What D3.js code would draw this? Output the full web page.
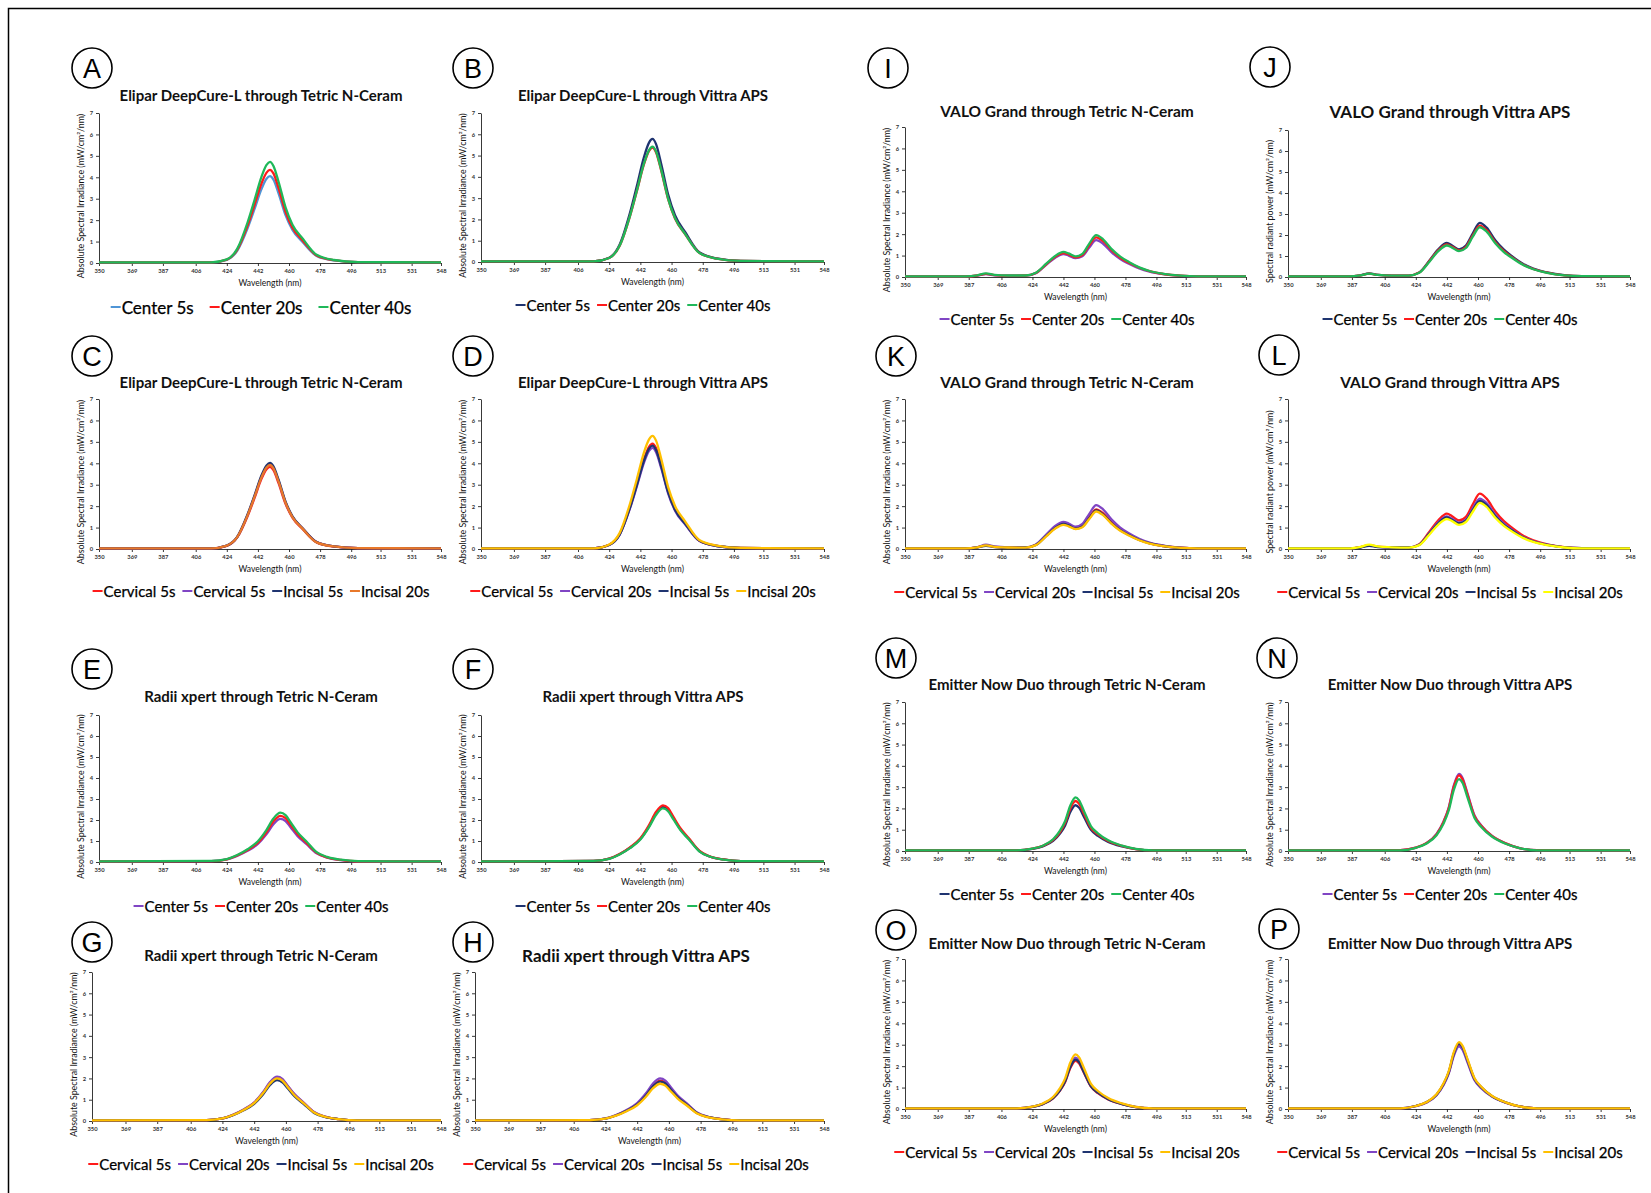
<!DOCTYPE html>
<html>
<head>
<meta charset="utf-8">
<script src="https://cdn.jsdelivr.net/npm/d3@7"></script>
<style>
  body { margin: 0; background: #fff; }
  svg { display: block; }
</style>
</head>
<body>
<div id="fig"></div>
<script>

// wavelength grids (nm)
var nmElipar  = [350, 415, 424, 430, 436, 440, 444, 447, 449, 451, 454, 458, 462, 468, 476, 486, 500, 548];
var nmRadii   = [350, 415, 424, 430, 436, 442, 447, 451, 455, 458, 461, 465, 470, 476, 482, 490, 500, 548];
var nmEmitter = [350, 415, 424, 430, 436, 440, 443, 446, 449, 451, 454, 458, 462, 468, 476, 484, 494, 548];
var nmValo    = [350, 385, 392, 397, 402, 410, 420, 426, 432, 437, 442, 445, 449, 453, 457, 461, 465, 470, 475, 480, 486, 492, 500, 510, 520, 548];

var xTicks = [350, 369, 387, 406, 424, 442, 460, 478, 496, 513, 531, 548];
var yTicks = [0, 1, 2, 3, 4, 5, 6, 7];

var namesCenter = ["Center 5s", "Center 20s", "Center 40s"];
var namesSites  = ["Cervical 5s", "Cervical 20s", "Incisal 5s", "Incisal 20s"];
var namesSitesC = ["Cervical 5s", "Cervical 5s", "Incisal 5s", "Incisal 20s"];

// Elipar DeepCure-L
var valsA = [
  [0.03,0.03,0.15,0.57,1.62,2.51,3.44,3.93,4.05,3.89,3.24,2.23,1.54,0.97,0.33,0.12,0.04,0.03],
  [0.03,0.03,0.16,0.61,1.74,2.70,3.70,4.22,4.35,4.18,3.48,2.39,1.65,1.04,0.35,0.13,0.04,0.03],
  [0.03,0.03,0.17,0.66,1.89,2.93,4.01,4.58,4.72,4.53,3.78,2.60,1.79,1.13,0.38,0.14,0.04,0.03]
];
var valsB = [
  [0.03,0.03,0.20,0.81,2.31,3.58,4.91,5.61,5.78,5.55,4.62,3.18,2.20,1.39,0.46,0.17,0.05,0.03],
  [0.03,0.03,0.19,0.75,2.15,3.34,4.57,5.22,5.38,5.16,4.30,2.96,2.04,1.29,0.43,0.16,0.05,0.03],
  [0.03,0.03,0.19,0.76,2.17,3.36,4.61,5.26,5.42,5.20,4.34,2.98,2.06,1.30,0.43,0.16,0.05,0.03]
];
var valsC = [
  [0.03,0.03,0.15,0.54,1.53,2.37,3.26,3.72,3.83,3.68,3.06,2.11,1.46,0.92,0.31,0.11,0.04,0.03],
  [0.03,0.03,0.16,0.55,1.58,2.45,3.36,3.83,3.95,3.79,3.16,2.17,1.50,0.95,0.32,0.12,0.04,0.03],
  [0.03,0.03,0.16,0.56,1.61,2.49,3.42,3.90,4.02,3.86,3.22,2.21,1.53,0.96,0.32,0.12,0.04,0.03],
  [0.03,0.03,0.16,0.55,1.57,2.43,3.33,3.80,3.92,3.76,3.14,2.16,1.49,0.94,0.31,0.12,0.04,0.03]
];
var valsD = [
  [0.03,0.03,0.20,0.69,1.97,3.05,4.18,4.77,4.92,4.72,3.94,2.71,1.87,1.18,0.39,0.15,0.05,0.03],
  [0.03,0.03,0.19,0.66,1.89,2.93,4.01,4.58,4.72,4.53,3.78,2.60,1.79,1.13,0.38,0.14,0.04,0.03],
  [0.03,0.03,0.19,0.67,1.93,2.99,4.10,4.68,4.82,4.63,3.86,2.65,1.83,1.16,0.39,0.14,0.05,0.03],
  [0.03,0.03,0.21,0.74,2.11,3.27,4.49,5.12,5.28,5.07,4.22,2.90,2.01,1.27,0.42,0.16,0.05,0.03]
];

// Radii xpert
var valsE = [
  [0.03,0.04,0.12,0.29,0.53,0.86,1.33,1.80,2.05,1.95,1.64,1.23,0.86,0.41,0.21,0.09,0.03,0.03],
  [0.03,0.04,0.13,0.31,0.57,0.92,1.43,1.94,2.20,2.09,1.76,1.32,0.92,0.44,0.22,0.10,0.03,0.03],
  [0.03,0.05,0.14,0.33,0.61,0.99,1.53,2.07,2.35,2.23,1.88,1.41,0.99,0.47,0.24,0.11,0.04,0.03]
];
var valsF = [
  [0.03,0.05,0.16,0.37,0.68,1.10,1.70,2.31,2.62,2.49,2.10,1.57,1.10,0.52,0.26,0.12,0.04,0.03],
  [0.03,0.05,0.16,0.38,0.70,1.13,1.76,2.38,2.70,2.57,2.16,1.62,1.13,0.54,0.27,0.12,0.04,0.03],
  [0.03,0.05,0.15,0.36,0.66,1.07,1.66,2.24,2.55,2.42,2.04,1.53,1.07,0.51,0.26,0.11,0.04,0.03]
];
var valsG = [
  [0.03,0.04,0.12,0.29,0.53,0.86,1.33,1.80,2.05,1.95,1.64,1.23,0.86,0.41,0.21,0.09,0.03,0.03],
  [0.03,0.04,0.12,0.29,0.54,0.87,1.35,1.83,2.08,1.98,1.66,1.25,0.87,0.42,0.21,0.09,0.03,0.03],
  [0.03,0.04,0.12,0.27,0.50,0.81,1.25,1.69,1.92,1.82,1.54,1.15,0.81,0.38,0.19,0.09,0.03,0.03],
  [0.03,0.04,0.12,0.28,0.52,0.84,1.30,1.76,2.00,1.90,1.60,1.20,0.84,0.40,0.20,0.09,0.03,0.03]
];
var valsH = [
  [0.03,0.04,0.11,0.27,0.49,0.80,1.24,1.67,1.90,1.81,1.52,1.14,0.80,0.38,0.19,0.09,0.03,0.03],
  [0.03,0.04,0.12,0.28,0.52,0.84,1.30,1.76,2.00,1.90,1.60,1.20,0.84,0.40,0.20,0.09,0.03,0.03],
  [0.03,0.04,0.11,0.26,0.48,0.78,1.20,1.63,1.85,1.76,1.48,1.11,0.78,0.37,0.19,0.08,0.03,0.03],
  [0.03,0.04,0.11,0.25,0.46,0.74,1.14,1.54,1.75,1.66,1.40,1.05,0.74,0.35,0.18,0.08,0.03,0.03]
];

// VALO Grand
var valsI = [
  [0.03,0.03,0.06,0.13,0.08,0.06,0.06,0.18,0.57,0.89,1.07,1.00,0.88,0.97,1.38,1.72,1.55,1.15,0.84,0.62,0.40,0.25,0.13,0.05,0.03,0.03],
  [0.03,0.03,0.07,0.15,0.09,0.06,0.07,0.19,0.59,0.93,1.12,1.05,0.92,1.03,1.48,1.85,1.67,1.24,0.90,0.66,0.43,0.27,0.14,0.06,0.03,0.03],
  [0.03,0.03,0.08,0.17,0.10,0.07,0.07,0.20,0.62,0.97,1.17,1.10,0.96,1.08,1.56,1.95,1.76,1.30,0.95,0.70,0.45,0.28,0.15,0.06,0.03,0.03]
];
var valsJ = [
  [0.03,0.03,0.08,0.17,0.10,0.07,0.07,0.22,0.80,1.32,1.62,1.50,1.32,1.50,2.08,2.58,2.35,1.75,1.30,0.97,0.63,0.40,0.22,0.09,0.04,0.03],
  [0.03,0.03,0.08,0.16,0.10,0.07,0.07,0.21,0.77,1.27,1.55,1.44,1.27,1.43,1.98,2.45,2.23,1.66,1.23,0.92,0.60,0.38,0.21,0.08,0.04,0.03],
  [0.03,0.03,0.08,0.16,0.10,0.07,0.07,0.20,0.74,1.23,1.50,1.40,1.23,1.38,1.92,2.37,2.16,1.61,1.19,0.89,0.58,0.37,0.20,0.08,0.04,0.03]
];
var valsK = [
  [0.03,0.03,0.08,0.17,0.10,0.07,0.07,0.20,0.63,1.00,1.20,1.12,0.98,1.08,1.48,1.85,1.67,1.24,0.90,0.66,0.43,0.27,0.14,0.06,0.03,0.03],
  [0.03,0.03,0.09,0.20,0.12,0.08,0.07,0.21,0.67,1.06,1.27,1.19,1.04,1.17,1.64,2.05,1.85,1.37,1.00,0.74,0.48,0.30,0.16,0.06,0.03,0.03],
  [0.03,0.03,0.07,0.15,0.09,0.06,0.07,0.19,0.61,0.97,1.17,1.10,0.95,1.05,1.44,1.80,1.62,1.20,0.88,0.65,0.42,0.26,0.14,0.05,0.03,0.03],
  [0.03,0.03,0.08,0.17,0.10,0.07,0.06,0.18,0.59,0.94,1.13,1.06,0.93,1.02,1.40,1.75,1.58,1.17,0.85,0.63,0.41,0.25,0.13,0.05,0.03,0.03]
];
var valsL = [
  [0.03,0.03,0.09,0.18,0.11,0.08,0.07,0.22,0.82,1.34,1.65,1.53,1.33,1.50,2.08,2.58,2.35,1.75,1.30,0.97,0.63,0.40,0.22,0.09,0.04,0.03],
  [0.03,0.03,0.08,0.17,0.10,0.07,0.07,0.20,0.76,1.24,1.52,1.41,1.23,1.37,1.90,2.35,2.14,1.60,1.18,0.88,0.57,0.36,0.20,0.08,0.04,0.03],
  [0.03,0.03,0.07,0.15,0.09,0.07,0.07,0.20,0.73,1.20,1.47,1.36,1.19,1.32,1.82,2.25,2.05,1.53,1.13,0.85,0.55,0.35,0.19,0.08,0.04,0.03],
  [0.03,0.03,0.10,0.20,0.12,0.08,0.06,0.18,0.69,1.14,1.40,1.30,1.13,1.26,1.74,2.15,1.96,1.46,1.08,0.80,0.52,0.33,0.18,0.07,0.03,0.03]
];

// Emitter Now Duo
var valsM = [
  [0.03,0.03,0.10,0.22,0.47,0.82,1.20,1.83,2.15,2.04,1.59,0.99,0.71,0.43,0.22,0.09,0.03,0.03],
  [0.03,0.03,0.11,0.24,0.52,0.89,1.32,2.00,2.35,2.23,1.74,1.08,0.78,0.47,0.24,0.09,0.03,0.03],
  [0.03,0.03,0.11,0.25,0.55,0.96,1.41,2.14,2.52,2.39,1.86,1.16,0.83,0.50,0.25,0.10,0.03,0.03]
];
var valsN = [
  [0.03,0.04,0.16,0.36,0.80,1.38,2.03,3.08,3.62,3.44,2.68,1.67,1.19,0.72,0.36,0.14,0.04,0.03],
  [0.03,0.04,0.16,0.36,0.78,1.35,1.99,3.02,3.55,3.37,2.63,1.63,1.17,0.71,0.36,0.14,0.04,0.03],
  [0.03,0.03,0.15,0.34,0.74,1.28,1.89,2.87,3.38,3.21,2.50,1.55,1.12,0.68,0.34,0.14,0.03,0.03]
];
var valsO = [
  [0.03,0.03,0.10,0.23,0.50,0.86,1.26,1.91,2.25,2.14,1.67,1.04,0.74,0.45,0.23,0.09,0.03,0.03],
  [0.03,0.03,0.11,0.24,0.53,0.91,1.34,2.04,2.40,2.28,1.78,1.10,0.79,0.48,0.24,0.10,0.03,0.03],
  [0.03,0.03,0.10,0.23,0.51,0.87,1.29,1.96,2.30,2.19,1.70,1.06,0.76,0.46,0.23,0.09,0.03,0.03],
  [0.03,0.03,0.11,0.26,0.56,0.97,1.43,2.17,2.55,2.42,1.89,1.17,0.84,0.51,0.26,0.10,0.03,0.03]
];
var valsP = [
  [0.03,0.03,0.14,0.30,0.66,1.14,1.68,2.55,3.00,2.85,2.22,1.38,0.99,0.60,0.30,0.12,0.03,0.03],
  [0.03,0.03,0.13,0.29,0.64,1.11,1.64,2.48,2.92,2.77,2.16,1.34,0.96,0.58,0.29,0.12,0.03,0.03],
  [0.03,0.03,0.14,0.31,0.67,1.16,1.71,2.59,3.05,2.90,2.26,1.40,1.01,0.61,0.31,0.12,0.03,0.03],
  [0.03,0.03,0.14,0.31,0.69,1.19,1.75,2.65,3.12,2.96,2.31,1.44,1.03,0.62,0.31,0.12,0.03,0.03]
];

// colours
var cBlue = "#4f95d6", cNavy = "#1f3470", cRed = "#ff1a1a", cGreen = "#1fb859",
    cPurple = "#8045c4", cOrange = "#e8782a", cGold = "#ffc000", cYellow = "#ffff00";

var yLabA = "Absolute Spectral Irradiance  (mW/cm\u00b2/nm)";
var yLabS = "Spectral radiant power (mW/cm\u00b2/nm)";

// layout of every panel (plot box, letter circle, title, legend)
var panels = [
  {id:"A", title:"Elipar DeepCure-L  through Tetric N-Ceram", nm:nmElipar, vals:valsA, names:namesCenter, clr:[cBlue,cRed,cGreen], ylab:yLabA,
   x0:99, x1:441, top:113, bot:263, cx:92, cy:68, tx:261, ty:95, ly:307, ts:15, ls:17},
  {id:"B", title:"Elipar DeepCure-L through Vittra APS", nm:nmElipar, vals:valsB, names:namesCenter, clr:[cNavy,cRed,cGreen], ylab:yLabA,
   x0:481, x1:824, top:113, bot:262, cx:473, cy:68, tx:643, ty:95, ly:305, ts:15},
  {id:"C", title:"Elipar DeepCure-L through Tetric N-Ceram", nm:nmElipar, vals:valsC, names:namesSitesC, clr:[cRed,cPurple,cNavy,cOrange], ylab:yLabA,
   x0:99, x1:441, top:399, bot:549, cx:92, cy:356, tx:261, ty:382, ly:591, ts:15},
  {id:"D", title:"Elipar DeepCure-L through Vittra APS", nm:nmElipar, vals:valsD, names:namesSites, clr:[cRed,cPurple,cNavy,cGold], ylab:yLabA,
   x0:481, x1:824, top:399, bot:549, cx:473, cy:356, tx:643, ty:382, ly:591, ts:15},
  {id:"E", title:"Radii xpert through Tetric N-Ceram", nm:nmRadii, vals:valsE, names:namesCenter, clr:[cPurple,cRed,cGreen], ylab:yLabA,
   x0:99, x1:441, top:715, bot:862, cx:92, cy:669, tx:261, ty:696, ly:906, ts:15},
  {id:"F", title:"Radii xpert through Vittra APS", nm:nmRadii, vals:valsF, names:namesCenter, clr:[cNavy,cRed,cGreen], ylab:yLabA,
   x0:481, x1:824, top:715, bot:862, cx:473, cy:669, tx:643, ty:696, ly:906, ts:15},
  {id:"G", title:"Radii xpert through Tetric N-Ceram", nm:nmRadii, vals:valsG, names:namesSites, clr:[cRed,cPurple,cNavy,cGold], ylab:yLabA,
   x0:92, x1:441, top:972, bot:1121, cx:92, cy:942, tx:261, ty:955, ly:1164, ts:15},
  {id:"H", title:"Radii xpert through Vittra APS", nm:nmRadii, vals:valsH, names:namesSites, clr:[cRed,cPurple,cNavy,cGold], ylab:yLabA,
   x0:475, x1:824, top:972, bot:1121, cx:473, cy:942, tx:636, ty:955, ly:1164, ts:17},
  {id:"I", title:"VALO Grand through Tetric N-Ceram", nm:nmValo, vals:valsI, names:namesCenter, clr:[cPurple,cRed,cGreen], ylab:yLabA,
   x0:905, x1:1246, top:127, bot:277, cx:888, cy:68, tx:1067, ty:111, ly:319, ts:15.5},
  {id:"J", title:"VALO Grand through Vittra APS", nm:nmValo, vals:valsJ, names:namesCenter, clr:[cNavy,cRed,cGreen], ylab:yLabS,
   x0:1288, x1:1630, top:130, bot:277, cx:1270, cy:67, tx:1450, ty:111, ly:319, ts:17},
  {id:"K", title:"VALO Grand through Tetric N-Ceram", nm:nmValo, vals:valsK, names:namesSites, clr:[cRed,cPurple,cNavy,cGold], ylab:yLabA,
   x0:905, x1:1246, top:399, bot:549, cx:896, cy:356, tx:1067, ty:382, ly:592, ts:15.5},
  {id:"L", title:"VALO Grand through Vittra APS", nm:nmValo, vals:valsL, names:namesSites, clr:[cRed,cPurple,cNavy,cYellow], ylab:yLabS,
   x0:1288, x1:1630, top:399, bot:549, cx:1279, cy:355, tx:1450, ty:382, ly:592, ts:15.5},
  {id:"M", title:"Emitter Now Duo through Tetric N-Ceram", nm:nmEmitter, vals:valsM, names:namesCenter, clr:[cNavy,cRed,cGreen], ylab:yLabA,
   x0:905, x1:1246, top:702, bot:851, cx:896, cy:658, tx:1067, ty:684, ly:894, ts:15},
  {id:"N", title:"Emitter Now Duo through Vittra APS", nm:nmEmitter, vals:valsN, names:namesCenter, clr:[cPurple,cRed,cGreen], ylab:yLabA,
   x0:1288, x1:1630, top:702, bot:851, cx:1277, cy:658, tx:1450, ty:684, ly:894, ts:15},
  {id:"O", title:"Emitter Now Duo through Tetric N-Ceram", nm:nmEmitter, vals:valsO, names:namesSites, clr:[cRed,cPurple,cNavy,cGold], ylab:yLabA,
   x0:905, x1:1246, top:959, bot:1109, cx:896, cy:930, tx:1067, ty:943, ly:1152, ts:15},
  {id:"P", title:"Emitter Now Duo through Vittra APS", nm:nmEmitter, vals:valsP, names:namesSites, clr:[cRed,cPurple,cNavy,cGold], ylab:yLabA,
   x0:1288, x1:1630, top:959, bot:1109, cx:1279, cy:929, tx:1450, ty:943, ly:1152, ts:15}
];

var width = 1651, height = 1193;
var font = "Lato, 'Open Sans', sans-serif";

var svg = d3.select("#fig").append("svg")
    .attr("width", width)
    .attr("height", height);

svg.append("rect").attr("width", width).attr("height", height).attr("fill", "#fff");

// frame (only top and left edges are inside the picture)
svg.append("path")
    .attr("d", "M8.5," + height + "V8.5H" + width)
    .attr("fill", "none")
    .attr("stroke", "#000")
    .attr("stroke-width", 1.5);

panels.forEach(drawPanel);

function drawPanel(p) {
  var g = svg.append("g").attr("class", "panel-" + p.id);

  var x = d3.scaleLinear().domain([350, 548]).range([p.x0, p.x1]);
  var y = d3.scaleLinear().domain([0, 7]).range([p.bot, p.top]);

  // letter in a circle
  g.append("circle")
      .attr("cx", p.cx).attr("cy", p.cy).attr("r", 20)
      .attr("fill", "none").attr("stroke", "#000").attr("stroke-width", 1.6);
  g.append("text")
      .attr("x", p.cx).attr("y", p.cy + 1)
      .attr("text-anchor", "middle")
      .attr("dominant-baseline", "central")
      .style("font-family", "'Liberation Sans', Arial, sans-serif")
      .style("font-size", "27px")
      .text(p.id);

  // title
  g.append("text")
      .attr("x", p.tx).attr("y", p.ty)
      .attr("text-anchor", "middle")
      .attr("dominant-baseline", "central")
      .style("font-family", font)
      .style("font-weight", "bold")
      .style("font-size", p.ts + "px")
      .style("fill", "#111")
      .text(p.title);

  // axes
  var xAxis = g.append("g")
      .attr("transform", "translate(0," + p.bot + ")")
      .call(d3.axisBottom(x).tickValues(xTicks).tickFormat(d3.format("d"))
        .tickSize(3).tickSizeOuter(0).tickPadding(3));
  var yAxis = g.append("g")
      .attr("transform", "translate(" + p.x0 + ",0)")
      .call(d3.axisLeft(y).tickValues(yTicks).tickFormat(d3.format("d"))
        .tickSize(3).tickSizeOuter(0).tickPadding(3));

  [xAxis, yAxis].forEach(function(a) {
    a.selectAll("path, line").attr("stroke", "#222").attr("stroke-width", 0.9);
    a.selectAll("text")
        .style("font-family", font)
        .style("font-size", "5.8px")
        .style("font-weight", "bold")
        .style("fill", "#333");
  });

  // axis titles
  g.append("text")
      .attr("x", (p.x0 + p.x1) / 2).attr("y", p.bot + 23)
      .attr("text-anchor", "middle")
      .style("font-family", font)
      .style("font-size", "8.5px")
      .style("fill", "#111")
      .text("Wavelength (nm)");

  g.append("text")
      .attr("transform", "translate(" + (p.x0 - 15) + "," + ((p.top + p.bot) / 2 + 8) + ") rotate(-90)")
      .attr("text-anchor", "middle")
      .style("font-family", font)
      .style("font-size", "8.8px")
      .style("fill", "#111")
      .text(p.ylab);

  // spectra, first series at the bottom
  var line = d3.line()
      .x(function(d) { return x(d[0]); })
      .y(function(d) { return y(d[1]); })
      .curve(d3.curveMonotoneX);

  p.vals.forEach(function(v, i) {
    var pts = p.nm.map(function(n, k) { return [n, v[k]]; });
    g.append("path")
        .datum(pts)
        .attr("d", line)
        .attr("fill", "none")
        .attr("stroke", p.clr[i])
        .attr("stroke-width", 2.3)
        .attr("stroke-linejoin", "round");
  });

  // legend, centred under the title
  var fs = p.ls || 15;
  var leg = g.append("g");
  var cursor = 0;
  p.names.forEach(function(nm, i) {
    var item = leg.append("g").attr("transform", "translate(" + cursor + ",0)");
    item.append("line")
        .attr("x1", 0).attr("x2", 10)
        .attr("y1", 0).attr("y2", 0)
        .attr("stroke", p.clr[i])
        .attr("stroke-width", 2);
    var t = item.append("text")
        .attr("x", 11).attr("y", 0)
        .attr("dominant-baseline", "central")
        .style("font-family", font)
        .style("font-size", fs + "px")
        .style("fill", "#000")
        .style("stroke", "#000")
        .style("stroke-width", 0.25)
        .text(nm);
    cursor += 11 + t.node().getComputedTextLength() + (p.ls ? 16 : 7);
  });
  cursor -= (p.ls ? 16 : 7);
  leg.attr("transform", "translate(" + (p.tx - cursor / 2) + "," + p.ly + ")");
}

</script>
</body>
</html>
